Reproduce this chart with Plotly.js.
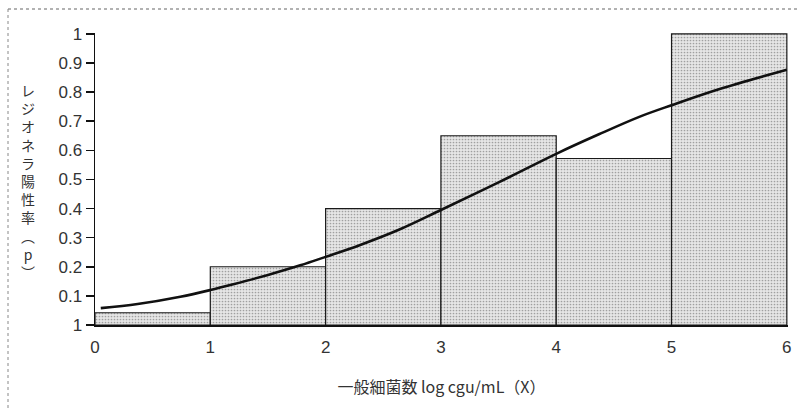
<!DOCTYPE html>
<html>
<head>
<meta charset="utf-8">
<script src="https://cdn.plot.ly/plotly-3.0.1.min.js"></script>
<style>html,body{margin:0;padding:0;background:#fff;}#chart{width:797px;height:408px;}</style>
</head>
<body>
<div id="chart"></div>
<script>
// Histogram bins (log cgu/mL) and Legionella positive rate
const binCenters = [0.5, 1.5, 2.5, 3.5, 4.5, 5.5];
const binRates = [0.042, 0.20, 0.40, 0.65, 0.572, 1.0];

// Fitted logistic curve
const curveX = [0.05, 0.37, 0.74, 1.0, 1.2, 1.5, 1.78, 2.0, 2.3, 2.64, 3.0, 3.5, 4.0, 4.37, 4.72, 5.0, 5.41, 6.0];
const curveY = [0.058, 0.072, 0.097, 0.12, 0.14, 0.172, 0.205, 0.234, 0.275, 0.328, 0.395, 0.49, 0.588, 0.655, 0.715, 0.755, 0.81, 0.877];

// Axis ticks
const yTickVals = [0, 0.1, 0.2, 0.3, 0.4, 0.5, 0.6, 0.7, 0.8, 0.9, 1];
const yTickText = ["1", "0.1", "0.2", "0.3", "0.4", "0.5", "0.6", "0.7", "0.8", "0.9", "1"];
const xTickVals = [0, 1, 2, 3, 4, 5, 6];

const xTitle = "一般細菌数 log cgu/mL（X）";
const yTitleChars = ["レ", "ジ", "オ", "ネ", "ラ", "陽", "性", "率", "︵", "p", "︶"];

const font = "Liberation Sans, Arial, sans-serif";
const cjk = "Noto Sans CJK JP, sans-serif";

const traces = [
  {
    type: "bar",
    x: binCenters,
    y: binRates,
    width: 1,
    marker: {
      color: "#dedede",
      line: {color: "#1a1a1a", width: 1.2},
      pattern: {shape: ".", fgcolor: "#a0a0a0", bgcolor: "#e6e6e6", size: 3, solidity: 0.25}
    },
    hoverinfo: "skip",
    showlegend: false
  },
  {
    type: "scatter",
    mode: "lines",
    x: curveX,
    y: curveY,
    line: {color: "#111", width: 2.6, shape: "spline", smoothing: 1},
    showlegend: false
  }
];

const plotH = 292, plotW = 693;

const layout = {
  width: 797, height: 408,
  margin: {l: 95, r: 9, t: 33, b: 83},
  paper_bgcolor: "#fff", plot_bgcolor: "#fff",
  bargap: 0,
  xaxis: {
    range: [0, 6.01], tickvals: xTickVals,
    showgrid: false, zeroline: false,
    showline: true, linecolor: "#111", linewidth: 1.5,
    ticks: "", ticklabelstandoff: 6,
    tickfont: {family: font, size: 17, color: "#333"},
    title: {text: xTitle, font: {family: cjk, size: 16, color: "#333"}, standoff: 26}
  },
  yaxis: {
    range: [0, 1.003], tickvals: yTickVals, ticktext: yTickText,
    showgrid: false, zeroline: false,
    showline: true, linecolor: "#111", linewidth: 1.5,
    ticks: "outside", ticklen: 8, tickwidth: 1.5, tickcolor: "#111",
    tickfont: {family: font, size: 17, color: "#333"}
  },
  annotations: [{
    xref: "paper", yref: "paper",
    x: (28 - 95) / plotW, y: 1 - (181 - 33) / plotH,
    xanchor: "center", yanchor: "middle",
    text: yTitleChars.join("<br>"), showarrow: false,
    font: {family: cjk, size: 14, color: "#333"}
  }],
  shapes: [
    {type: "line", xref: "paper", yref: "paper", x0: (8 - 95) / plotW, x1: (797 - 95) / plotW, y0: (325 - 9) / plotH, y1: (325 - 9) / plotH,
     line: {color: "#666", width: 1.2, dash: "dot"}},
    {type: "line", xref: "paper", yref: "paper", x0: (8 - 95) / plotW, x1: (8 - 95) / plotW, y0: (325 - 9) / plotH, y1: (325 - 408) / plotH,
     line: {color: "#888", width: 1, dash: "dot"}}
  ]
};

Plotly.newPlot("chart", traces, layout, {displayModeBar: false, staticPlot: true});
</script>
</body>
</html>
